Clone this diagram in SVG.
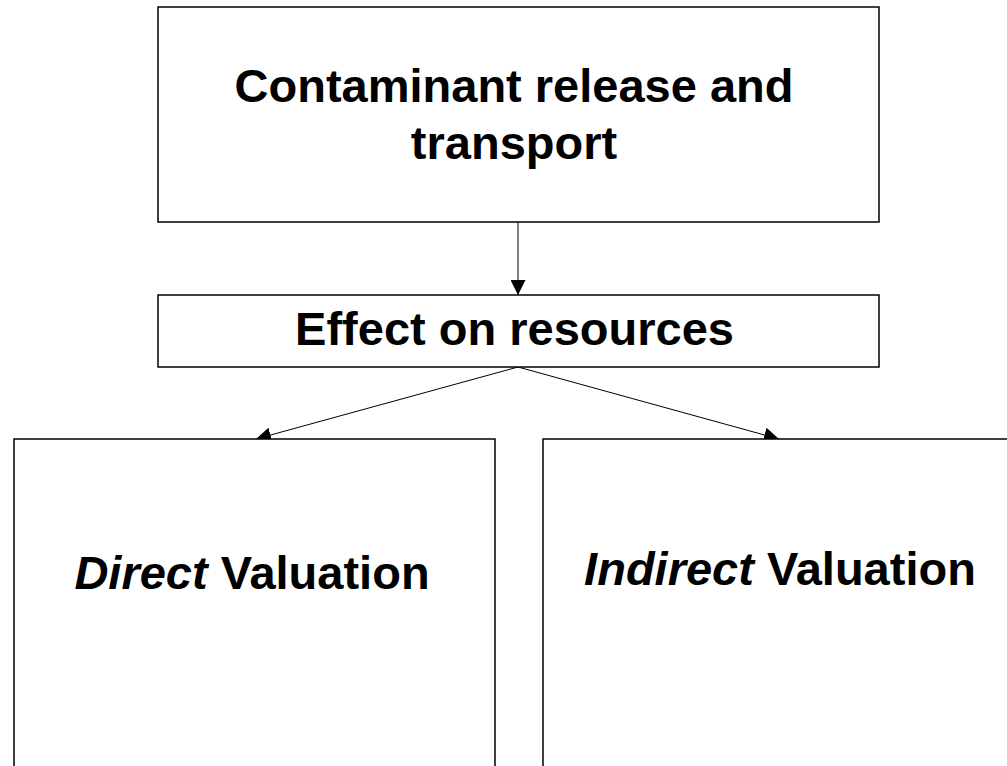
<svg xmlns="http://www.w3.org/2000/svg" width="1007" height="766" viewBox="0 0 1007 766">
<style>
.box{fill:#fff;stroke:#000;stroke-width:1.5}
.t{font-family:"Liberation Sans",Arial,sans-serif;font-weight:bold;font-size:47px;fill:#000;text-anchor:middle}
.c{stroke:#000;stroke-width:1;fill:none;marker-end:url(#ah)}
</style>
<defs>
<marker id="ah" markerWidth="15" markerHeight="15" refX="15" refY="7.5" orient="auto" markerUnits="userSpaceOnUse">
<path d="M0,0 L15,7.5 L0,15 Z" fill="#000"/>
</marker>
</defs>
<rect width="1007" height="766" fill="#fff"/>
<g id="connectors">
<line class="c" x1="518" y1="222" x2="518" y2="295"/>
<line class="c" x1="518" y1="367" x2="256" y2="439"/>
<line class="c" x1="518" y1="367" x2="779" y2="439"/>
</g>
<g id="release">
<rect class="box" x="158" y="7" width="721" height="215"/>
<text class="t" x="514" y="102">Contaminant release and</text>
<text class="t" x="514" y="159">transport</text>
</g>
<g id="effect">
<rect class="box" x="158" y="295" width="721" height="72"/>
<text class="t" x="514.5" y="345">Effect on resources</text>
</g>
<g id="direct">
<rect class="box" x="14" y="439" width="481" height="340"/>
<text class="t" x="252" y="589"><tspan font-style="italic">Direct</tspan> Valuation</text>
</g>
<g id="indirect">
<rect class="box" x="543" y="439" width="480" height="340"/>
<text class="t" x="780" y="585"><tspan font-style="italic">Indirect</tspan> Valuation</text>
</g>
</svg>
